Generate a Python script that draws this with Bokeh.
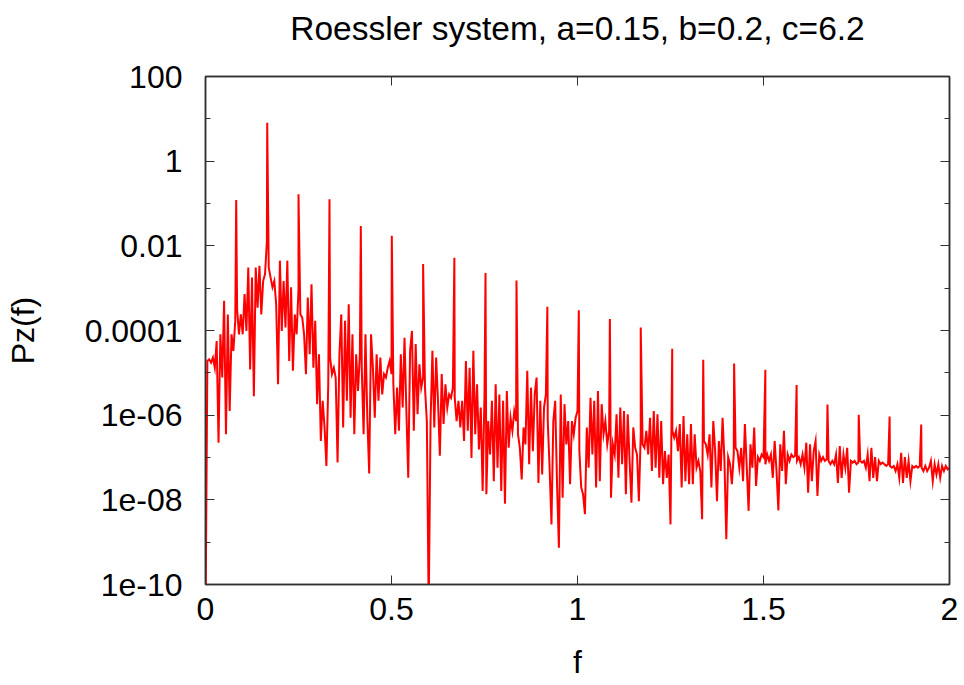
import numpy as np
from bokeh.plotting import figure
from bokeh.models import Range1d, FixedTicker, CustomJSTickFormatter, LinearAxis, LogAxis, ColumnDataSource
from bokeh.embed import file_html
from bokeh.resources import INLINE

# ---------------- texts ----------------
title_text = "Roessler system, a=0.15, b=0.2, c=6.2"
x_label = "f"
y_label = "Pz(f)"
x_tick_values = [0, 0.5, 1, 1.5, 2]
x_tick_labels = ["0", "0.5", "1", "1.5", "2"]
y_tick_values = [1e-10, 1e-8, 1e-6, 1e-4, 1e-2, 1, 100]
y_tick_labels = ["1e-10", "1e-08", "1e-06", "0.0001", "0.01", "1", "100"]
y_minor_values = [1e-9, 1e-7, 1e-5, 1e-3, 1e-1, 10]

# ---------------- data ----------------
# broadband part of the spectrum, log10(Pz) sampled every 0.005 in f, from f=0 to f=2
bg_df = 0.005
bg_log10_pz = [
    -11.0, -4.72, -4.68, -4.76, -4.64, -4.88, -4.25, -6.65, -4.09, -5.11,
    -3.30, -6.45, -3.62, -5.90, -4.09, -4.48, -3.77, -3.50, -4.09, -3.62,
    -4.09, -3.14, -4.01, -2.51, -4.92, -2.75, -5.55, -2.51, -3.46, -2.47,
    -3.62, -2.83, -2.67, -1.90, -2.51, -2.75, -2.98, -2.83, -3.38, -5.27,
    -2.35, -4.01, -2.83, -3.93, -2.35, -4.72, -2.98, -4.95, -3.62, -4.09,
    -3.02, -3.62, -3.69, -4.09, -5.03, -3.22, -4.56, -2.91, -4.88, -3.77,
    -5.74, -4.56, -6.61, -5.66, -6.29, -7.20, -5.27, -4.64, -5.03, -4.88,
    -5.11, -7.12, -4.56, -3.62, -6.29, -3.77, -5.66, -3.38, -6.06, -4.09,
    -6.45, -4.56, -5.43, -4.56, -4.88, -6.45, -4.09, -6.06, -7.38, -4.09,
    -4.88, -6.06, -4.56, -5.66, -4.64, -5.51, -5.03, -5.11, -4.88, -4.72,
    -5.03, -5.27, -6.45, -5.35, -6.37, -4.56, -5.82, -4.17, -5.90, -7.48,
    -4.48, -4.01, -6.37, -4.32, -5.98, -4.80, -5.35, -5.11, -5.35, -6.14,
    -10.6, -6.14, -4.48, -6.29, -4.64, -5.66, -6.96, -5.03, -6.21, -5.27,
    -5.82, -5.51, -5.59, -5.35, -5.59, -6.14, -5.66, -6.29, -5.66, -6.61,
    -4.72, -6.37, -4.88, -7.01, -4.48, -6.45, -5.27, -6.81, -5.82, -7.79,
    -5.51, -7.87, -6.14, -6.93, -5.66, -7.56, -5.27, -7.24, -5.51, -7.79,
    -5.66, -8.09, -5.43, -6.77, -6.06, -6.37, -5.90, -6.14, -6.45, -6.77,
    -7.52, -6.29, -6.69, -4.95, -7.16, -5.35, -6.85, -5.51, -5.11, -7.60,
    -5.66, -7.40, -5.82, -5.51, -6.14, -7.24, -8.58, -6.14, -5.66, -7.63,
    -9.13, -5.51, -7.95, -5.74, -6.69, -6.14, -7.63, -6.14, -6.45, -6.06,
    -5.90, -6.85, -7.71, -7.87, -8.34, -6.29, -7.24, -5.59, -6.93, -5.66,
    -7.71, -5.43, -7.56, -5.74, -6.45, -6.14, -6.69, -6.37, -7.95, -6.69,
    -6.93, -5.98, -7.48, -5.82, -7.16, -5.90, -7.87, -5.98, -7.08, -8.07,
    -6.29, -6.77, -6.93, -8.03, -6.45, -6.69, -6.77, -6.37, -6.93, -6.06,
    -7.32, -5.90, -7.24, -5.98, -7.48, -6.14, -7.63, -6.85, -7.48, -6.93,
    -8.58, -6.37, -6.53, -6.37, -6.85, -6.21, -7.71, -6.02, -7.56, -6.45,
    -7.63, -6.21, -7.63, -6.45, -7.24, -7.08, -7.32, -8.46, -6.61, -6.69,
    -6.93, -6.45, -7.71, -6.14, -6.85, -8.03, -6.61, -7.32, -6.06, -7.08,
    -8.93, -6.99, -7.16, -7.63, -6.93, -6.77, -6.85, -7.24, -6.77, -7.56,
    -6.21, -7.24, -8.26, -6.69, -7.24, -6.29, -7.67, -6.99, -7.08, -6.93,
    -6.99, -7.16, -6.93, -7.08, -6.93, -7.48, -6.61, -7.32, -8.25, -6.69,
    -7.32, -6.37, -7.63, -6.93, -7.08, -6.93, -6.99, -6.96, -7.08, -6.99,
    -7.16, -6.93, -7.24, -6.65, -7.83, -6.69, -7.56, -6.85, -6.61, -7.91,
    -6.93, -7.08, -6.99, -7.08, -7.04, -7.08, -7.16, -7.08, -7.16, -6.93,
    -7.60, -6.73, -7.48, -6.93, -7.24, -6.77, -7.83, -7.08, -7.12, -7.08,
    -7.16, -7.12, -7.08, -7.12, -7.08, -7.24, -6.93, -7.56, -6.77, -7.48,
    -6.99, -7.56, -7.08, -7.16, -7.12, -7.16, -7.20, -7.16, -7.20, -7.24,
    -7.20, -7.32, -7.16, -7.48, -6.89, -7.60, -6.99, -7.48, -7.08, -7.56,
    -7.20, -7.24, -7.20, -7.24, -7.20, -7.24, -7.32, -7.20, -7.32, -7.24,
    -7.08, -7.56, -7.16, -7.40, -7.16, -7.48, -7.20, -7.32, -7.20, -7.28,
    -7.24,
]
# sharp harmonic lines
peak_f = [0.0825, 0.1659, 0.2500, 0.3333, 0.4175, 0.5008, 0.5850, 0.6690,
          0.7527, 0.8360, 0.9190, 1.0035, 1.0870, 1.1700, 1.2546, 1.3380,
          1.4210, 1.5050, 1.5890, 1.6720, 1.7560, 1.8390, 1.9240]
peak_log10_pz = [-0.92, 0.905, -0.78, -0.90, -1.53, -1.76, -2.43, -2.28,
                 -2.64, -2.82, -3.44, -3.52, -3.73, -3.93, -4.43, -4.69,
                 -4.78, -4.93, -5.29, -5.75, -5.99, -6.03, -6.22]

bg_f = np.arange(len(bg_log10_pz)) * bg_df
f_all = np.concatenate([bg_f, np.array(peak_f)])
lg_all = np.concatenate([np.array(bg_log10_pz), np.array(peak_log10_pz)])
order = np.argsort(f_all, kind="stable")
src = ColumnDataSource(dict(f=f_all[order], pz=10.0 ** lg_all[order]))

# ---------------- figure ----------------
FONT = "Liberation Sans"
AX = "#303030"

p = figure(width=964, height=685, y_axis_type="log",
           x_range=Range1d(0, 2), y_range=Range1d(1e-10, 100),
           output_backend="svg", toolbar_location=None,
           min_border_left=205, min_border_right=15,
           min_border_top=76, min_border_bottom=101)

p.line("f", "pz", source=src, line_color="#ff0000", line_width=2.0,
       line_join="miter")

p.title.text = title_text
p.title.align = "center"
p.title.text_font = FONT
p.title.text_font_size = "33.5px"
p.title.text_font_style = "normal"
p.title.text_color = "black"
p.title.standoff = 12

p.grid.visible = False
p.outline_line_color = AX
p.outline_line_width = 1.5
p.background_fill_color = "white"
p.border_fill_color = "white"

xfmt = CustomJSTickFormatter(args=dict(vals=x_tick_values, labels=x_tick_labels), code="""
const i = vals.findIndex(v => Math.abs(v - tick) < 1e-9);
return i >= 0 ? labels[i] : "";
""")
yfmt = CustomJSTickFormatter(args=dict(vals=y_tick_values, labels=y_tick_labels), code="""
const i = vals.findIndex(v => Math.abs(Math.log10(v) - Math.log10(tick)) < 1e-6);
return i >= 0 ? labels[i] : "";
""")
blank = CustomJSTickFormatter(code="return '';")
spacer = CustomJSTickFormatter(code="return ' ';")

def style_axis(ax):
    ax.axis_line_color = AX
    ax.axis_line_width = 1.5
    ax.major_tick_line_color = AX
    ax.minor_tick_line_color = AX
    ax.major_tick_in = 9
    ax.major_tick_out = 0
    ax.minor_tick_in = 5
    ax.minor_tick_out = 0
    ax.major_label_text_font = FONT
    ax.major_label_text_font_size = "32px"
    ax.major_label_text_color = "black"
    ax.axis_label_text_font = FONT
    ax.axis_label_text_font_size = "32px"
    ax.axis_label_text_font_style = "normal"
    ax.axis_label_text_color = "black"

xax = p.xaxis[0]
xax.ticker = FixedTicker(ticks=x_tick_values, minor_ticks=[])
xax.formatter = xfmt
xax.axis_label = x_label
style_axis(xax)
xax.major_label_standoff = 13
xax.axis_label_standoff = 21

yax = p.yaxis[0]
yax.ticker = FixedTicker(ticks=y_tick_values, minor_ticks=y_minor_values)
yax.formatter = yfmt
yax.axis_label = y_label
style_axis(yax)
yax.major_label_standoff = 23
yax.axis_label_standoff = 41

top = LinearAxis(ticker=FixedTicker(ticks=x_tick_values, minor_ticks=[]), formatter=spacer)
style_axis(top)
top.major_label_standoff = 20
top.major_label_text_font_size = "1px"
p.add_layout(top, "above")

right = LogAxis(ticker=FixedTicker(ticks=y_tick_values, minor_ticks=y_minor_values), formatter=blank)
style_axis(right)
right.major_label_standoff = 0
right.major_label_text_font_size = "1px"
p.add_layout(right, "right")

open("out.html", "w").write(file_html(p, INLINE))
